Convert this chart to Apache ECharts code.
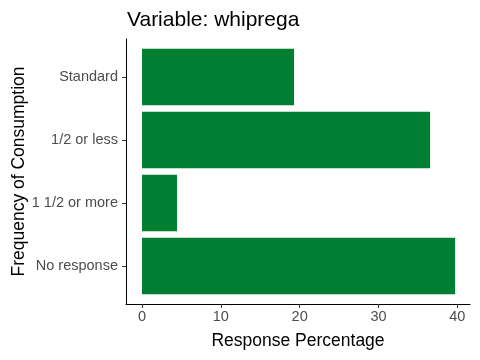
<!DOCTYPE html>
<html><head><meta charset="utf-8">
<script src="https://cdn.jsdelivr.net/npm/echarts@6/dist/echarts.min.js"></script>
<style>html,body{margin:0;padding:0;background:#fff}#c{width:480px;height:360px}</style>
</head><body><div id="c"></div>
<script>
const categories = ['No response', '1 1/2 or more', '1/2 or less', 'Standard'];
const values = [39.72, 4.44, 36.55, 19.29];
const xTicks = [0, 10, 20, 30, 40];

const chart = echarts.init(document.getElementById('c'), null, {renderer: 'canvas'});
const F = 'Liberation Sans, Arial, sans-serif';
chart.setOption({
  animation: false,
  backgroundColor: '#fff',
  title: {text: 'Variable: whiprega', left: 122, top: 5,
    textStyle: {fontFamily: F, fontSize: 21, fontWeight: 'normal', color: '#000'}},
  grid: [
    {left: 126, right: 10, top: 45.5, bottom: 62.5, containLabel: false, outerBoundsMode: 'none'},
    {left: 126, right: 10, top: 39, bottom: 56, containLabel: false, outerBoundsMode: 'none'}
  ],
  xAxis: [
    {gridIndex: 0, type: 'value', min: -2.03, max: 41.61, offset: 6.5,
     name: 'Response Percentage', nameLocation: 'middle', nameGap: 28, nameMoveOverlap: false,
     nameTextStyle: {fontFamily: F, fontSize: 17.5, color: '#000'},
     axisLine: {show: false, onZero: false},
     axisTick: {show: true, length: 4, customValues: xTicks, lineStyle: {color: '#333', width: 1}},
     axisLabel: {fontFamily: F, fontSize: 14.5, color: '#4D4D4D', margin: 5, customValues: xTicks},
     splitLine: {show: false}},
    {gridIndex: 1, type: 'value', min: 0, max: 1,
     axisLine: {show: true, onZero: false, lineStyle: {color: '#000', width: 1}},
     axisTick: {show: false}, axisLabel: {show: false}, splitLine: {show: false}}
  ],
  yAxis: [
    {gridIndex: 0, type: 'category', data: categories,
     name: 'Frequency of Consumption', nameLocation: 'middle', nameGap: 98, nameRotate: 90, nameMoveOverlap: false,
     nameTextStyle: {fontFamily: F, fontSize: 17.5, color: '#000'},
     axisLine: {show: false, onZero: false},
     axisTick: {show: true, alignWithLabel: true, length: 4, lineStyle: {color: '#333', width: 1}},
     axisLabel: {fontFamily: F, fontSize: 14.5, color: '#4D4D4D', margin: 8},
     splitLine: {show: false}},
    {gridIndex: 1, type: 'value', min: 0, max: 1,
     axisLine: {show: true, onZero: false, lineStyle: {color: '#000', width: 1}},
     axisTick: {show: false}, axisLabel: {show: false}, splitLine: {show: false}}
  ],
  series: [{
    type: 'bar', xAxisIndex: 0, yAxisIndex: 0, data: values, barWidth: '90%',
    itemStyle: {color: '#007F32'}
  }]
});
</script></body></html>
